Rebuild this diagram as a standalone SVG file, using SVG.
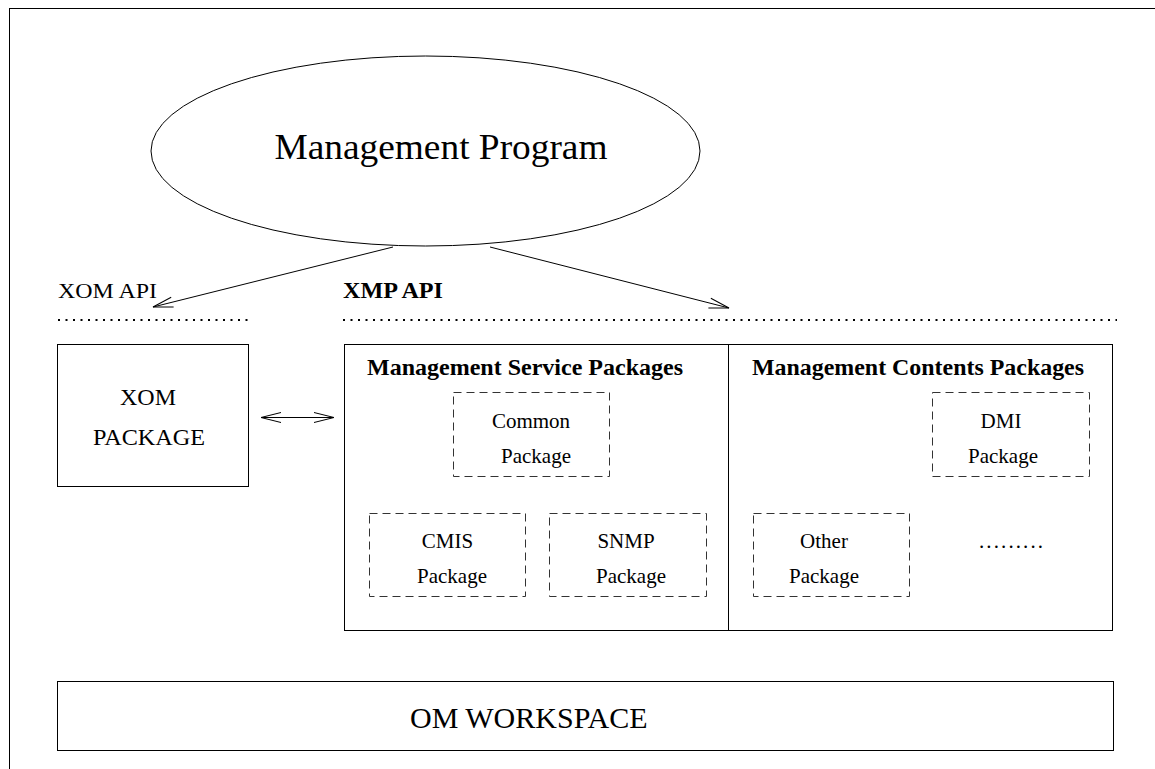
<svg xmlns="http://www.w3.org/2000/svg" width="1155" height="769" viewBox="0 0 1155 769">
<style>
  .ln { fill: none; stroke: #000; stroke-width: 1; }
  .dash { fill: none; stroke: #333; stroke-width: 1; stroke-dasharray: 8 5; }
  .dots { fill: none; stroke: #000; stroke-width: 2; stroke-dasharray: 2 5.5; }
  .t { font-family: "Liberation Serif", "Times New Roman", serif; fill: #000; }
  .b { font-weight: bold; }
  .c { text-anchor: middle; }
</style>
<defs>
  <marker id="ah" markerUnits="userSpaceOnUse" viewBox="-21 -6 22 12" refX="0" refY="0" markerWidth="22" markerHeight="12" orient="auto-start-reverse">
    <path d="M-20,-5 L0,0 L-20,5" fill="none" stroke="#000" stroke-width="1"/>
  </marker>
</defs>
<rect x="0" y="0" width="1155" height="769" fill="#fff"/>
<rect id="frame" x="9.5" y="8.5" width="1200" height="800" class="ln"/>

<g id="management-program">
  <ellipse cx="425.5" cy="151" rx="274.5" ry="95" class="ln"/>
  <text x="441" y="159" class="t c" font-size="36" textLength="333" lengthAdjust="spacingAndGlyphs">Management Program</text>
</g>

<g id="xom-api">
  <text x="58" y="298" class="t" font-size="22" textLength="99" lengthAdjust="spacingAndGlyphs">XOM API</text>
  <line x1="58" y1="320" x2="252" y2="320" class="dots"/>
</g>

<g id="xmp-api">
  <text x="343" y="298" class="t b" font-size="23" textLength="100" lengthAdjust="spacingAndGlyphs">XMP API</text>
  <line x1="343" y1="320" x2="1117" y2="320" class="dots"/>
</g>

<g id="xom-package">
  <rect x="57.5" y="344.5" width="191" height="142" class="ln"/>
  <text x="148" y="405" class="t c" font-size="24">XOM</text>
  <text x="149" y="445" class="t c" font-size="24" textLength="112" lengthAdjust="spacingAndGlyphs">PACKAGE</text>
</g>

<g id="xmp-packages">
  <rect x="344.5" y="344.5" width="768" height="286" class="ln"/>
  <line x1="728.5" y1="344.5" x2="728.5" y2="630.5" class="ln"/>
</g>

<g id="management-service-packages">
  <text x="367" y="375" class="t b" font-size="22.5" textLength="316" lengthAdjust="spacingAndGlyphs">Management Service Packages</text>
</g>

<g id="management-contents-packages">
  <text x="752" y="375" class="t b" font-size="22.5" textLength="332" lengthAdjust="spacingAndGlyphs">Management Contents Packages</text>
</g>

<g id="common-package">
  <rect x="453.5" y="392.5" width="156" height="84" class="dash"/>
  <text x="531" y="428" class="t c" font-size="21">Common</text>
  <text x="536" y="463" class="t c" font-size="21">Package</text>
</g>

<g id="cmis-package">
  <rect x="369.5" y="513.5" width="156" height="83" class="dash"/>
  <text x="447.5" y="548" class="t c" font-size="21">CMIS</text>
  <text x="452" y="583" class="t c" font-size="21">Package</text>
</g>

<g id="snmp-package">
  <rect x="549.5" y="513.5" width="157" height="83" class="dash"/>
  <text x="626" y="548" class="t c" font-size="21">SNMP</text>
  <text x="631" y="583" class="t c" font-size="21">Package</text>
</g>

<g id="dmi-package">
  <rect x="932.5" y="392.5" width="157" height="84" class="dash"/>
  <text x="1001" y="428" class="t c" font-size="21">DMI</text>
  <text x="1003" y="463" class="t c" font-size="21">Package</text>
</g>

<g id="other-package">
  <rect x="753.5" y="513.5" width="156" height="83" class="dash"/>
  <text x="824" y="548" class="t c" font-size="21">Other</text>
  <text x="824" y="583" class="t c" font-size="21">Package</text>
</g>

<g id="ellipsis">
  <text x="979" y="548" class="t" font-size="21" textLength="64" lengthAdjust="spacing">.........</text>
</g>

<g id="om-workspace">
  <rect x="57.5" y="681.5" width="1056" height="69" class="ln"/>
  <text x="410" y="728" class="t" font-size="30">OM WORKSPACE</text>
</g>

<g id="connectors">
  <line x1="393" y1="247" x2="153" y2="307" class="ln" marker-end="url(#ah)"/>
  <line x1="490" y1="247" x2="729" y2="308" class="ln" marker-end="url(#ah)"/>
  <line x1="261" y1="417.5" x2="334" y2="417.5" class="ln" marker-start="url(#ah)" marker-end="url(#ah)"/>
</g>
</svg>
